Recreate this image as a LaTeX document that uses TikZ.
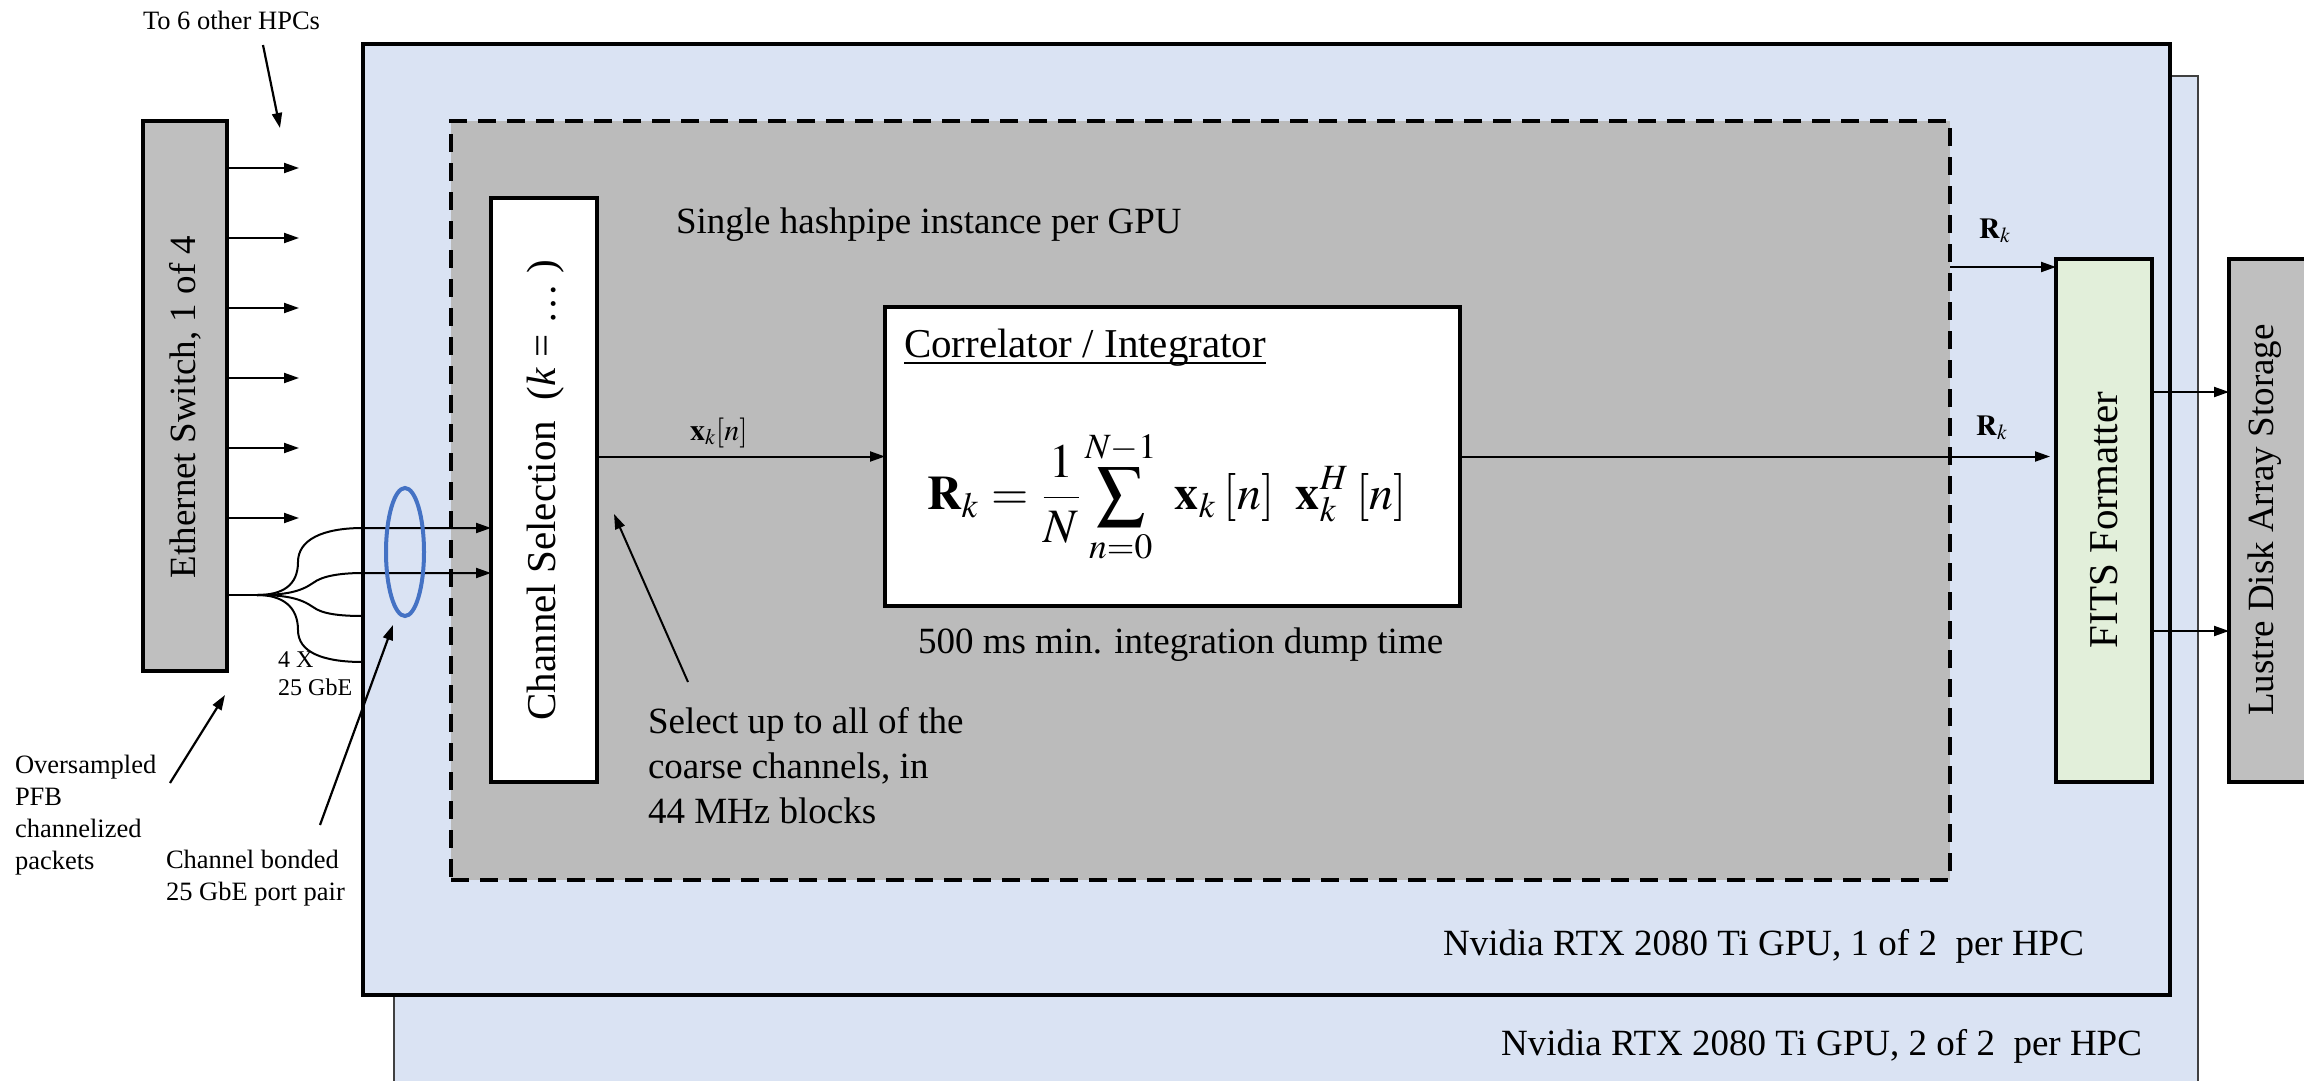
\documentclass[tikz,border=0pt]{standalone}
\usepackage{mathptmx}
\usepackage{fontspec}
\setmainfont{Liberation Serif}
\usetikzlibrary{arrows.meta,shapes.geometric}

\definecolor{gpublue}{HTML}{DAE3F3}
\definecolor{pipegray}{HTML}{BBBBBB}
\definecolor{devgray}{HTML}{BFBFBF}
\definecolor{fitsgreen}{HTML}{E2EFDA}
\definecolor{bondblue}{HTML}{4472C4}

\tikzset{
  blk/.style={draw, line width=3.3pt, inner sep=0pt, outer sep=0pt, anchor=north west},
  arr/.style={line width=2pt, -{Triangle[length=15pt,width=10pt]}},
  wire/.style={line width=2pt},
  txt/.style={inner sep=0pt, outer sep=0pt, font=\fontsize{37pt}{45pt}\selectfont},
  bigtxt/.style={inner sep=0pt, outer sep=0pt, font=\fontsize{41pt}{48pt}\selectfont},
  smalltxt/.style={inner sep=0pt, outer sep=0pt, font=\fontsize{26.5pt}{32pt}\selectfont},
}

\begin{document}
\begin{tikzpicture}[x=1pt, y=-1pt]
\clip (0,0) rectangle (2304,1081);

% GPU cards (second one sits behind the first)
\node[blk, line width=2pt, draw=black!75, fill=gpublue,
      minimum width=1804pt, minimum height=1100pt] (gpuB) at (394,76) {};
\node[blk, fill=gpublue, minimum width=1807pt, minimum height=951pt] (gpuA) at (363,44) {};
\node[txt, anchor=base east] (gpuBlbl) at (2142,1055) {Nvidia RTX 2080 Ti GPU, 2 of 2\ \ per HPC};
\node[txt, anchor=base east] (gpuAlbl) at (2084,955) {Nvidia RTX 2080 Ti GPU, 1 of 2\ \ per HPC};

% hashpipe instance
\node[blk, fill=pipegray, dash pattern=on 18pt off 11pt,
      minimum width=1499pt, minimum height=759pt] (pipe) at (451,121) {};
\node[txt, anchor=base west] (pipelbl) at (676,233) {Single hashpipe instance per GPU};

% Ethernet switch
\node[blk, fill=devgray, minimum width=84pt, minimum height=550pt] (sw) at (143,121) {};
\node[txt, rotate=90] (swlbl) at (185,407) {Ethernet Switch, 1 of 4};

% processing blocks
\node[blk, fill=white, minimum width=106pt, minimum height=584pt] (chsel) at (491,198) {};
\node[bigtxt, rotate=90] (chsellbl) at (546,490) {Channel Selection\ \ (\textit{k} = \ldots\ )};

\node[blk, fill=white, minimum width=575pt, minimum height=299pt] (corr) at (885,307) {};
\node[bigtxt, anchor=base west] (corrlbl) at (904,357) {Correlator / Integrator};
\draw[line width=1.6pt] ([yshift=-6pt]corrlbl.base west) -- ([yshift=-6pt]corrlbl.base east);
\node[inner sep=0pt, font=\fontsize{48pt}{56pt}\selectfont] (eq) at (1167,497)
  {$\displaystyle \mathbf{R}_{k}\mkern1mu = \mkern1mu\frac{1}{N}\sum_{n=0}^{N-1}\mkern5mu\mathbf{x}_{k}\mkern3mu[n]\mkern8mu\mathbf{x}_{k}^{H}\mkern3mu[n]$};
\node[txt, anchor=base west] (dumplbl) at (918,653) {500 ms min. integration dump time};

\node[blk, fill=fitsgreen, minimum width=96pt, minimum height=523pt] (fits) at (2056,259) {};
\node[bigtxt, rotate=90] (fitslbl) at (2104,520) {FITS Formatter};

\node[blk, fill=devgray, minimum width=120pt, minimum height=523pt] (lustre) at (2229,259) {};
\node[txt, rotate=90] (lustrelbl) at (2265,520) {Lustre Disk Array Storage};

% switch outputs to the other HPCs
\foreach \i/\yy in {1/168,2/238,3/308,4/378,5/448,6/518}{
  \coordinate (out\i) at (299,\yy);
  \draw[arr] (sw.east |- out\i) -- (out\i);
}
\node[smalltxt, anchor=base west] (tohpc) at (143,30) {To 6 other HPCs};
\coordinate (tohpcS) at (263,45);
\coordinate (tohpcE) at (280,128);
\draw[arr, line width=2.2pt] (tohpcS) -- (tohpcE);

% four 25 GbE links fanning out of the switch
\coordinate (fj) at (257,595);
\coordinate (f1) at (363,528);
\coordinate (f2) at (363,573);
\coordinate (f3) at (363,616);
\coordinate (f4) at (363,662);
\draw[wire] (sw.east |- fj) -- (fj);
\draw[arr] (fj) .. controls (283,595) and (298,585) .. (298,562)
               .. controls (298,540) and (322,528) .. (f1) -- (chsel.west |- f1);
\draw[arr] (fj) .. controls (285,595) and (300,592) .. (313,583)
               .. controls (322,576) and (340,573) .. (f2) -- (chsel.west |- f2);
\draw[wire] (fj) .. controls (285,595) and (300,598) .. (313,607)
                .. controls (322,614) and (340,616) .. (f3);
\draw[wire] (fj) .. controls (283,595) and (298,607) .. (298,630)
                .. controls (298,652) and (322,662) .. (f4);
\node[draw=bondblue, line width=4pt, ellipse, inner sep=0pt,
      minimum width=38pt, minimum height=128pt] (bond) at (405,552) {};
\node[anchor=north west, align=left, inner sep=0pt,
      font=\fontsize{24pt}{28pt}\selectfont] (linkslbl) at (278,651) {4 X\\25 GbE};

% side notes
\node[smalltxt, anchor=north west, align=left] (pfblbl) at (15,755)
  {Oversampled\\PFB\\channelized\\packets};
\coordinate (pfbS) at (170,783);
\coordinate (pfbE) at (225,695);
\draw[arr, line width=2.2pt] (pfbS) -- (pfbE);

\node[smalltxt, anchor=north west, align=left] (bondlbl) at (166,850)
  {Channel bonded\\25 GbE port pair};
\coordinate (bondS) at (320,825);
\coordinate (bondE) at (393,625);
\draw[arr, line width=2.2pt] (bondS) -- (bondE);

\node[txt, anchor=north west, align=left] (sellbl) at (648,707)
  {Select up to all of the\\coarse channels, in\\44 MHz blocks};
\coordinate (selS) at (688,682);
\coordinate (selE) at (614,514);
\draw[arr] (selS) -- (selE);

% data flow
\draw[arr] (chsel.east |- corr.west) -- (corr.west);
\node[inner sep=0pt, anchor=base west, font=\fontsize{30pt}{34pt}\selectfont] (xlbl) at (690,440)
  {$\mathbf{x}_{k}[n]$};
\coordinate (ru) at (1950,267);
\draw[arr] (pipe.east |- ru) -- (fits.west |- ru);
\node[inner sep=0pt, anchor=base west, font=\fontsize{29pt}{33pt}\selectfont] (rulbl) at (1979,238)
  {$\mathbf{R}_{k}$};
\draw[arr, shorten >=6pt] (corr.east) -- (fits.west |- corr.east);
\node[inner sep=0pt, anchor=base west, font=\fontsize{29pt}{33pt}\selectfont] (rllbl) at (1976,435)
  {$\mathbf{R}_{k}$};
\coordinate (s1) at (2229,392);
\coordinate (s2) at (2229,631);
\draw[arr] (fits.east |- s1) -- (s1);
\draw[arr] (fits.east |- s2) -- (s2);
\end{tikzpicture}
\end{document}
